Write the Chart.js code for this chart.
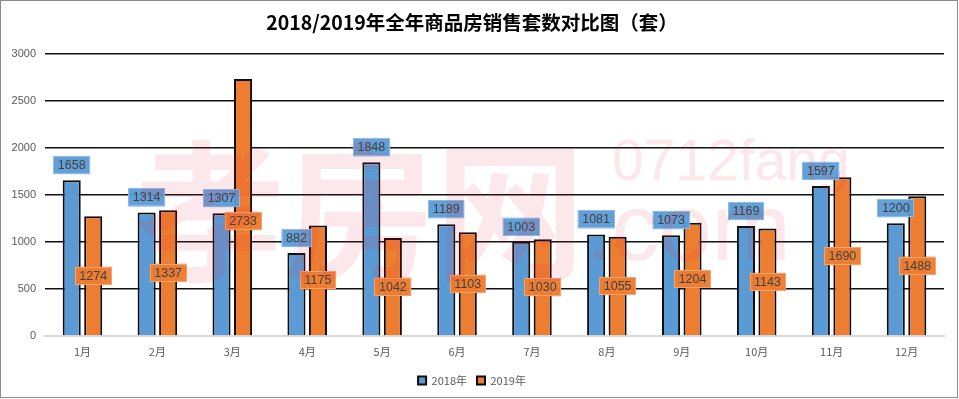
<!DOCTYPE html>
<html>
<head>
<meta charset="utf-8">
<script src="https://cdn.jsdelivr.net/npm/chart.js@4.4.1/dist/chart.umd.min.js"></script>
<style>
  html, body { margin: 0; padding: 0; background: #fff; }
  #wrap { width: 959px; height: 399px; position: relative; }
</style>
</head>
<body>
<div id="wrap"><canvas id="c" width="959" height="399"></canvas></div>
<script>
const months = ['1月','2月','3月','4月','5月','6月','7月','8月','9月','10月','11月','12月'];
const sales2018 = [1658, 1314, 1307, 882, 1848, 1189, 1003, 1081, 1073, 1169, 1597, 1200];
const sales2019 = [1274, 1337, 2733, 1175, 1042, 1103, 1030, 1055, 1204, 1143, 1690, 1488];
const seriesNames = ['2018年', '2019年'];
const titleText = '2018/2019年全年商品房销售套数对比图（套）';

const BLUE = '#5B9BD5';
const ORANGE = '#ED7D31';

const valueLabels = {
  id: 'valueLabels',
  afterDatasetsDraw(chart, args, opts) {
    const ctx = chart.ctx;
    ctx.save();
    ctx.font = opts.font;
    ctx.textAlign = 'center';
    ctx.textBaseline = 'middle';
    chart.data.datasets.forEach((ds, di) => {
      const meta = chart.getDatasetMeta(di);
      meta.data.forEach((bar, i) => {
        const text = String(ds.data[i]);
        const w = ctx.measureText(text).width + 9;
        const h = 18;
        let cy;
        if (di === 0) {
          cy = bar.y - 6 - h / 2;
        } else {
          const s = (opts.shift[di] && opts.shift[di][i]) || 0;
          cy = (bar.y + bar.base) / 2 + s;
        }
        const cx = bar.x;
        ctx.fillStyle = opts.fills[di];
        ctx.fillRect(cx - w / 2, cy - h / 2, w, h);
        ctx.strokeStyle = opts.strokes[di];
        ctx.lineWidth = 1;
        ctx.strokeRect(Math.round(cx - w / 2) + 0.5, Math.round(cy - h / 2) + 0.5, Math.round(w) - 1, h - 1);
        ctx.fillStyle = '#404040';
        ctx.fillText(text, cx, cy + 0.5);
      });
    });
    ctx.restore();
  }
};

const decor = {
  id: 'decor',
  afterDraw(chart) {
    const ctx = chart.ctx;
    ctx.save();
    // watermark
    ctx.globalAlpha = 0.11;
    ctx.fillStyle = '#E8283C';
    ctx.textBaseline = 'alphabetic';
    ctx.textAlign = 'left';
    ctx.font = 'bold 150px "Noto Sans CJK SC"';
    ctx.fillText('孝房网', 135, 268);
    ctx.font = '57px "Liberation Sans"';
    ctx.fillText('0712fang', 612, 180);
    ctx.font = '95px "Liberation Sans"';
    ctx.fillText('.com', 585, 260);
    ctx.restore();
    // frame
    ctx.save();
    ctx.strokeStyle = '#8C8C8C';
    ctx.lineWidth = 1;
    ctx.strokeRect(0.5, 0.5, 957, 397);
    ctx.restore();
  }
};

new Chart(document.getElementById('c'), {
  type: 'bar',
  data: {
    labels: months,
    datasets: [
      { label: seriesNames[0], data: sales2018, backgroundColor: BLUE, borderColor: '#0d0d0d', borderWidth: 2 },
      { label: seriesNames[1], data: sales2019, backgroundColor: ORANGE, borderColor: '#0d0d0d', borderWidth: 2 }
    ]
  },
  options: {
    responsive: false,
    animation: false,
    devicePixelRatio: 1,
    categoryPercentage: 0.574,
    barPercentage: 0.84,
    layout: { padding: { top: 0, left: 0, right: 15, bottom: 3 } },
    scales: {
      x: {
        grid: { display: false, drawTicks: false },
        border: { display: true, color: '#D9D9D9', width: 2 },
        ticks: { color: '#595959', font: { family: '"Noto Sans CJK SC"', size: 11 }, padding: 9 },
        afterFit(s) { s.height = 29; }
      },
      y: {
        min: 0,
        max: 3000,
        ticks: {
          stepSize: 500,
          color: '#595959',
          font: { family: '"Liberation Sans"', size: 11 },
          padding: 9,
          callback: (v) => String(v)
        },
        grid: {
          drawTicks: false,
          color: (c) => (c.tick && c.tick.value === 0) ? '#D9D9D9' : '#111',
          lineWidth: 1.6
        },
        border: { display: false },
        afterFit(s) { s.width = 45; }
      }
    },
    plugins: {
      title: {
        display: true,
        text: titleText,
        color: '#000',
        font: { family: '"Noto Sans CJK SC"', size: 19.5, weight: 'bold' },
        padding: { top: 11, bottom: 19.6 }
      },
      legend: {
        position: 'bottom',
        labels: {
          boxWidth: 8,
          boxHeight: 8,
          color: '#595959',
          font: { family: '"Noto Sans CJK SC"', size: 11 },
          padding: 10
        }
      },
      tooltip: { enabled: false },
      valueLabels: {
        font: '12.5px "Liberation Sans"',
        fills: ['rgba(91,155,213,0.95)', 'rgba(237,125,49,0.97)'],
        strokes: ['#8FBCE6', '#F4A46E'],
        shift: { 1: { 2: 14 } }
      }
    }
  },
  plugins: [valueLabels, decor]
});
</script>
</body>
</html>
